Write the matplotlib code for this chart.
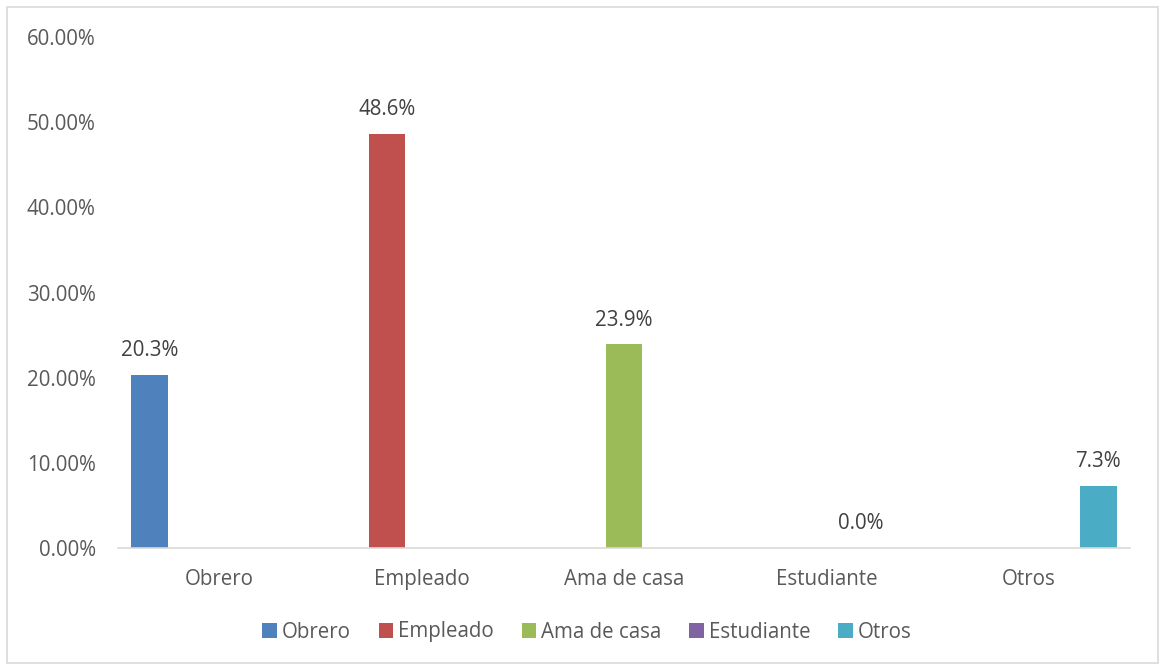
import matplotlib
matplotlib.use("Agg")
import matplotlib.pyplot as plt
from matplotlib.patches import Rectangle
from matplotlib.ticker import FuncFormatter

categories = ["Obrero", "Empleado", "Ama de casa", "Estudiante", "Otros"]
series_names = ["Obrero", "Empleado", "Ama de casa", "Estudiante", "Otros"]
values = [0.203, 0.486, 0.239, 0.0, 0.073]
labels = ["20.3%", "48.6%", "23.9%", "0.0%", "7.3%"]
colors = ["#4F81BD", "#C0504D", "#9BBB59", "#8064A2", "#4BACC6"]
yticks = [0.0, 0.1, 0.2, 0.3, 0.4, 0.5, 0.6]

FS = 14.8
plt.rcParams['font.family'] = ['Open Sans', 'DejaVu Sans']
fig = plt.figure(figsize=(11.6, 6.67), dpi=100)
ax = fig.add_axes([118/1160, 1-548/667, (1130-118)/1160, (548-37)/667])

slot = 0.172
width = 0.18
n = len(series_names)
handles = []
for i, (name, v, lab, c) in enumerate(zip(series_names, values, labels, colors)):
    x = i + (i - (n - 1) / 2) * slot
    b = ax.bar([x], [v], width=width, color=c, label=name, zorder=2)
    handles.append(b)
    ax.text(x, v + 0.016, lab, ha='center', va='bottom', fontsize=FS, color='#404040')

ax.set_xlim(-0.5, 4.5)
ax.set_ylim(0, 0.6)
ax.set_yticks(yticks)
ax.yaxis.set_major_formatter(FuncFormatter(lambda v, p: f"{v*100:.2f}%"))
ax.set_xticks(range(len(categories)))
ax.set_xticklabels(categories)
ax.tick_params(axis='both', length=0, labelsize=FS, labelcolor='#595959')
ax.tick_params(axis='x', pad=15)
ax.tick_params(axis='y', pad=16)
for s in ['top', 'right', 'left']:
    ax.spines[s].set_visible(False)
ax.spines['bottom'].set_color('#D9D9D9')
ax.spines['bottom'].set_linewidth(1.2)

leg = fig.legend(handles=handles, labels=series_names, loc='center', bbox_to_anchor=(587/1160, 1-632/667),
                 ncol=5, frameon=False, fontsize=FS, handlelength=0.7, handleheight=0.7,
                 handletextpad=0.25, columnspacing=1.35)
for t in leg.get_texts():
    t.set_color('#595959')

fig.patches.append(Rectangle((7/1160, 4/667), 1151/1160, 656/667, transform=fig.transFigure,
                             fill=False, edgecolor='#D9D9D9', linewidth=1.2))

fig.savefig("out.png", dpi=100)
